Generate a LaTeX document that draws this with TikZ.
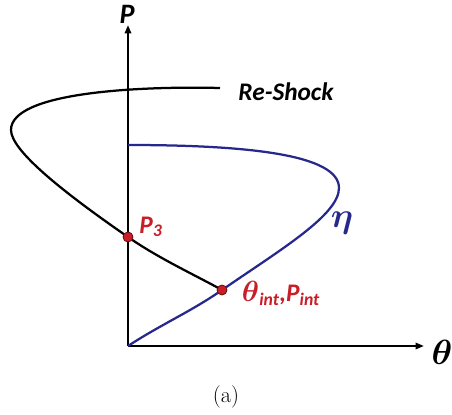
\documentclass[tikz,border=0pt]{standalone}
\usepackage{fontspec}
\setsansfont{Carlito}
\usetikzlibrary{arrows.meta}
\definecolor{etablue}{RGB}{38, 40, 140}
\definecolor{ptred}{RGB}{200, 30, 40}

\begin{document}
\begin{tikzpicture}[
    x=0.025cm, y=-0.025cm,
    axis/.style={draw=black, line width=1.6pt, -{Triangle[length=6pt, width=4.5pt]}},
    shockline/.style={draw=black, line width=1.6pt},
    etaline/.style={draw=etablue, line width=1.6pt},
    ptdot/.style={circle, fill=ptred, draw=ptred!55!black, line width=0.5pt, minimum size=7pt, inner sep=0pt},
    axislabel/.style={font=\fontsize{20}{22}\selectfont\sffamily\bfseries\itshape},
    curvelabel/.style={font=\fontsize{18}{20}\selectfont\sffamily\bfseries\itshape},
    ptlabel/.style={text=ptred, font=\fontsize{18}{20}\selectfont\sffamily\bfseries\itshape}
]
\useasboundingbox (0,0) rectangle (452,414);

% Axes
\coordinate (O) at (128,346);
\coordinate (Ptip) at (128,25);
\coordinate (Ttip) at (424,346);
\draw[axis] (O) -- (Ptip);
\draw[axis] (O) -- (Ttip);
\node[axislabel] (Plbl) at (127,14) {P};
\node[font=\fontsize{23}{26}\selectfont\boldmath] (Tlbl) at (442,352) {$\theta$};

% Points on the curves
\coordinate (shockend) at (220,88);
\coordinate (shockleft) at (11,130);
\coordinate (etatop) at (128,145);
\coordinate (etaright) at (339,188);
\node[ptdot] (P3) at (128,237) {};
\node[ptdot] (Pint) at (222,290) {};

% Re-shock curve
\draw[shockline] (shockend) .. controls (140,86) and (11,92) .. (shockleft)
    .. controls (11,150) and (60,190) .. (P3.center)
    .. controls (158,258) and (195,275) .. (Pint.center);

% eta curve
\draw[etaline] (etatop) .. controls (250,145) and (339,155) .. (etaright)
    .. controls (339,215) and (280,250) .. (Pint.center)
    .. controls (192,311) and (160,325) .. (O);

% redraw dots on top
\node[ptdot] at (P3) {};
\node[ptdot] at (Pint) {};

% Labels
\node[curvelabel] (shocklbl) at (286,92) {Re-Shock};
\node[text=etablue, font=\fontsize{23}{26}\selectfont\boldmath] (etalbl) at (342,223) {$\eta$};
\node[ptlabel] (P3lbl) at (151,227) {P\textsubscript{3}};
\node[ptlabel] (Pintlbl) at (281,293) {{\fontsize{21}{24}\selectfont\boldmath$\theta$}\textsubscript{int},P\textsubscript{int}};

% Caption
\node[font=\fontsize{16}{18}\selectfont\rmfamily] (caption) at (226,397) {(a)};
\end{tikzpicture}
\end{document}
